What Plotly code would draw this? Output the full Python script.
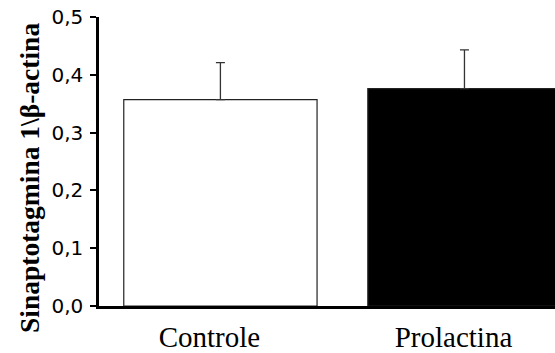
import plotly.graph_objects as go

categories = ["Controle", "Prolactina"]
values = [0.357, 0.376]
errors = [0.064, 0.067]
bar_colors = ["white", "black"]
y_ticks = [0.0, 0.1, 0.2, 0.3, 0.4, 0.5]
y_tick_labels = ["0,0", "0,1", "0,2", "0,3", "0,4", "0,5"]

fig = go.Figure()
fig.add_trace(go.Bar(
    x=[0, 1],
    y=values,
    width=0.792,
    marker=dict(color=bar_colors, line=dict(color="#222222", width=1.2)),
    error_y=dict(type="data", array=errors, arrayminus=[0, 0], symmetric=False,
                 color="#333333", thickness=1.3, width=4.5),
    cliponaxis=True,
))

fig.update_layout(
    width=555, height=353,
    margin=dict(l=99, r=0, t=17, b=38),
    plot_bgcolor="white", paper_bgcolor="white",
    showlegend=False,
    xaxis=dict(
        range=[-0.4975, 1.371],
        tickmode="array", tickvals=[0, 1], ticktext=categories,
        tickfont=dict(family="Liberation Serif", size=29, color="black"),
        showline=True, linecolor="black", linewidth=2.5,
        ticks="", showgrid=False, zeroline=False,
        ticklabelstandoff=3,
        ticklabelshift=-11,
    ),
    yaxis=dict(
        range=[0, 0.5],
        tickmode="array", tickvals=y_ticks, ticktext=y_tick_labels,
        tickfont=dict(family="DejaVu Sans", size=20, color="black"),
        showline=True, linecolor="black", linewidth=2.5,
        ticks="outside", ticklen=6, tickwidth=2, tickcolor="black",
        showgrid=False, zeroline=False,
        ticklabelstandoff=3,
    ),
    annotations=[dict(
        text="<b>Sinaptotagmina 1\\β-actina</b>",
        textangle=-90,
        xref="paper", yref="paper",
        x=-(99 - 30) / 456, y=(315 - 183) / 298,
        xanchor="center", yanchor="middle",
        showarrow=False,
        font=dict(family="Liberation Serif", size=27.5, color="black"),
    )],
)

fig.write_html("out.html")
